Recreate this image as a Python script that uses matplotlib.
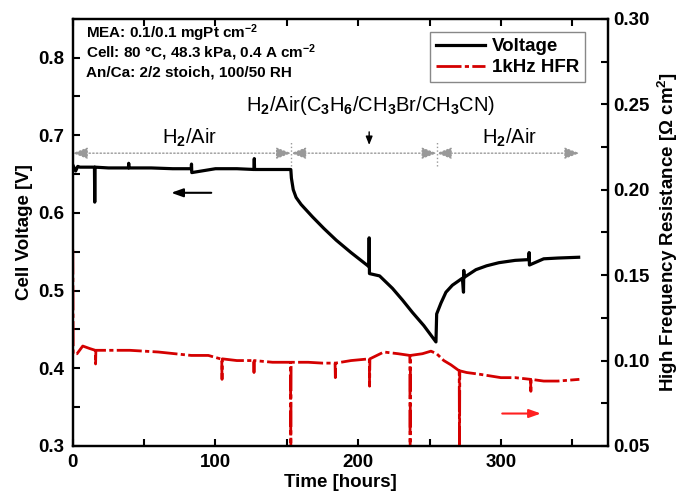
import matplotlib
matplotlib.use('Agg')
import matplotlib.pyplot as plt
from matplotlib.ticker import MultipleLocator, FormatStrFormatter

plt.rcParams['font.family'] = 'Liberation Sans'
plt.rcParams['font.weight'] = 'bold'
plt.rcParams['axes.labelweight'] = 'bold'
plt.rcParams['mathtext.fontset'] = 'custom'
plt.rcParams['mathtext.rm'] = 'Liberation Sans'
plt.rcParams['mathtext.it'] = 'Liberation Sans:italic'
plt.rcParams['mathtext.bf'] = 'Liberation Sans:bold'

# cell voltage [V] vs time [h]
volt_t = [0, 2, 3.5, 5, 10, 15.2, 15.4, 15.6, 25, 39, 39.2, 39.4, 55, 70, 83, 83.2, 83.4,
          100, 115, 127, 127.2, 127.4, 140, 152.8, 153.2, 154.5, 156.5, 160, 168, 176, 184.6,
          195, 207.5, 207.7, 207.9, 215, 224, 231, 238, 246, 254.5, 255, 258, 261.5, 266, 273,
          273.8, 274, 274.2, 282.5, 290, 298.6, 310, 319.6, 319.8, 320, 330, 340, 354.5]
volt_v = [0.662, 0.654, 0.660, 0.659, 0.659, 0.659, 0.614, 0.659, 0.658, 0.658, 0.664, 0.658,
          0.658, 0.657, 0.657, 0.663, 0.652, 0.657, 0.657, 0.656, 0.670, 0.656, 0.656, 0.656,
          0.645, 0.630, 0.620, 0.611, 0.595, 0.580, 0.565, 0.549, 0.531, 0.568, 0.522, 0.519,
          0.503, 0.488, 0.472, 0.455, 0.434, 0.470, 0.484, 0.498, 0.507, 0.516, 0.498, 0.526,
          0.517, 0.527, 0.532, 0.536, 0.539, 0.540, 0.549, 0.533, 0.541, 0.542, 0.543]

# 1 kHz HFR [Ohm cm2] vs time [h]
hfr_t = [0, 0.3, 3, 7, 12, 15.8, 16, 16.2, 25, 40, 60, 83, 95, 103.5, 104.4, 104.6, 104.8,
         115, 126.8, 127, 127.2, 140, 152.6, 152.8, 153, 165, 175, 183.8, 184, 184.2, 195,
         207.8, 208, 208.2, 218, 228, 236.2, 236.4, 236.6, 245, 251, 255, 260, 265, 270.8,
         271, 271.2, 276, 285, 300, 310, 320.8, 321, 321.2, 330, 340, 355]
hfr_v = [0.165, 0.104, 0.104, 0.1085, 0.107, 0.106, 0.098, 0.106, 0.106, 0.106, 0.105, 0.103,
         0.103, 0.101, 0.101, 0.089, 0.101, 0.100, 0.100, 0.093, 0.100, 0.099, 0.099, 0.045,
         0.099, 0.099, 0.0985, 0.0985, 0.090, 0.0985, 0.100, 0.101, 0.085, 0.101, 0.105, 0.104,
         0.103, 0.045, 0.103, 0.104, 0.1055, 0.104, 0.100, 0.0975, 0.094, 0.045, 0.094, 0.093,
         0.092, 0.090, 0.090, 0.089, 0.082, 0.089, 0.088, 0.088, 0.089]

# test phases
phase_edges = [0, 153, 255, 355]
phase_labels = ['H$_2$/Air', 'H$_2$/Air(C$_3$H$_6$/CH$_3$Br/CH$_3$CN)', 'H$_2$/Air']

info = ['MEA: 0.1/0.1 mgPt cm$^{\\mathbf{-2}}$',
        'Cell: 80 °C, 48.3 kPa, 0.4 A cm$^{\\mathbf{-2}}$',
        'An/Ca: 2/2 stoich, 100/50 RH']

fig = plt.figure(figsize=(6.8, 4.95), dpi=100)
ax = fig.add_axes([0.107, 0.099, 0.787, 0.863])
ax2 = ax.twinx()

l1, = ax.plot(volt_t, volt_v, color='black', lw=2.3, label='Voltage')
l2, = ax2.plot(hfr_t, hfr_v, color='#d40000', lw=2, dashes=(9, 1.2, 1.5, 1.2), label='1kHz HFR')

ax.set_xlim(0, 375)
ax.set_ylim(0.3, 0.85)
ax2.set_ylim(0.05, 0.30)

ax.xaxis.set_major_locator(MultipleLocator(100))
ax.xaxis.set_minor_locator(MultipleLocator(50))
ax.yaxis.set_major_locator(MultipleLocator(0.1))
ax.yaxis.set_minor_locator(MultipleLocator(0.05))
ax.yaxis.set_major_formatter(FormatStrFormatter('%.1f'))
ax2.yaxis.set_major_locator(MultipleLocator(0.05))
ax2.yaxis.set_minor_locator(MultipleLocator(0.025))
ax2.yaxis.set_major_formatter(FormatStrFormatter('%.2f'))

ax.tick_params(which='both', direction='in', top=True, length=5, width=1.5, labelsize=13.5, pad=6)
ax2.tick_params(which='both', direction='in', length=5, width=1.5, labelsize=13.5, pad=4)
for a in (ax, ax2):
    for s in a.spines.values():
        s.set_linewidth(1.6)

ax.set_xlabel('Time [hours]', fontsize=13.5, labelpad=2)
ax.set_ylabel('Cell Voltage [V]', fontsize=13.5)
ax2.set_ylabel('High Frequency Resistance [Ω cm$^{\\mathbf{2}}$]', fontsize=13.5)

# phase arrows
y_arr = 0.677
for i in range(len(phase_edges) - 1):
    ax.annotate('', xy=(phase_edges[i], y_arr), xytext=(phase_edges[i + 1], y_arr),
                arrowprops=dict(arrowstyle='<|-|>,head_length=0.9,head_width=0.35', ls=':',
                                color='#999999', lw=1, shrinkA=0, shrinkB=0))
for x in phase_edges[1:3]:
    ax.plot([x, x], [0.660, 0.692], ':', color='#999999', lw=1)

ax.text(82, 0.697, phase_labels[0], ha='center', va='center', fontsize=14.5, fontweight='normal')
ax.text(209, 0.739, phase_labels[1], ha='center', va='center', fontsize=14.5, fontweight='normal')
ax.text(306, 0.697, phase_labels[2], ha='center', va='center', fontsize=14.5, fontweight='normal')
ax.annotate('', xy=(207.7, 0.684), xytext=(207.7, 0.708),
            arrowprops=dict(arrowstyle='-|>,head_length=0.5,head_width=0.2', color='black', lw=1))

# arrows pointing to the axes
ax.annotate('', xy=(67, 0.626), xytext=(99, 0.626),
            arrowprops=dict(arrowstyle='-|>,head_length=0.7,head_width=0.25', color='black', lw=1.5))
ax2.annotate('', xy=(330, 0.069), xytext=(299, 0.069),
             arrowprops=dict(arrowstyle='-|>,head_length=0.7,head_width=0.25', color='#ff2020', lw=1.5))

for k, line in enumerate(info):
    ax.text(0.024, 0.966 - 0.046 * k, line, transform=ax.transAxes, ha='left', va='center',
            fontsize=11)

leg = ax2.legend([l1, l2], ['Voltage', '1kHz HFR'], loc='upper right',
                 bbox_to_anchor=(0.957, 0.968), borderaxespad=0, fancybox=False,
                 edgecolor='#888888', fontsize=13.5, handlelength=2.6, framealpha=1,
                 labelspacing=0.2, handletextpad=0.4, borderpad=0.3)
leg.get_frame().set_linewidth(1)

plt.savefig('out.png', dpi=100)
